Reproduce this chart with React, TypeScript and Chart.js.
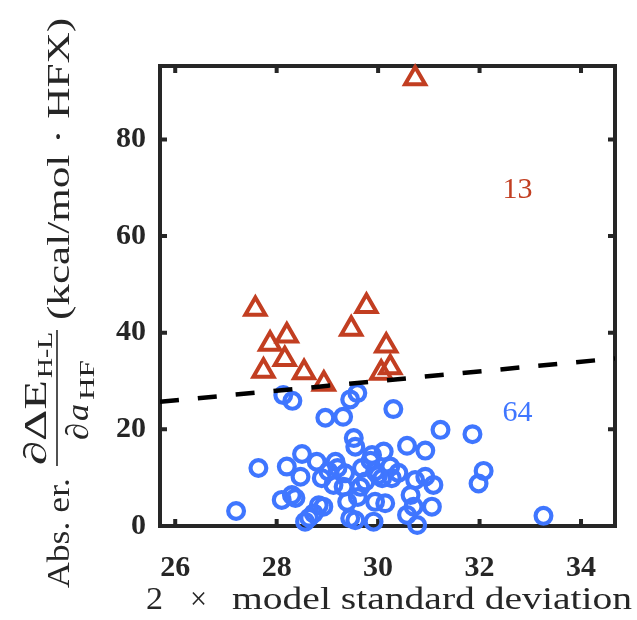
import React, { useEffect, useRef } from 'react';
import { Chart, registerables } from 'chart.js';

Chart.register(...registerables);

// ---- data ----
const xTicks = [26, 28, 30, 32, 34];
const yTicks = [0, 20, 40, 60, 80];
const xMin = 25.7;
const xMax = 34.67;
const yMin = 0;
const yMax = 95.2;

const redX = [30.73, 27.58, 29.77, 29.47, 28.2, 27.87, 30.16, 28.16, 27.74, 28.54, 30.24, 30.06, 28.93];
const redY = [92.6, 44.9, 45.5, 40.8, 39.4, 37.7, 37.3, 34.5, 32.1, 31.8, 32.8, 31.7, 29.4];

const blueX = [
  27.2, 27.64, 28.1, 28.3, 28.37, 28.2, 28.5, 28.47, 28.79, 28.89,
  28.83, 28.73, 28.64, 28.56, 28.92, 28.13, 28.31, 28.96, 29.31, 29.59,
  29.45, 30.3, 31.23, 31.86, 29.52, 29.55, 29.88, 30.11, 29.16, 29.68,
  29.94, 30.24, 29.02, 29.35, 29.75, 30.08, 30.27, 29.12, 29.32, 29.65,
  29.39, 29.94, 30.14, 29.45, 29.55, 29.91, 30.57, 30.93, 30.73, 30.93,
  31.09, 30.64, 31.06, 30.57, 30.77, 30.7, 32.08, 31.98, 33.26, 29.85,
  30.0, 29.2, 30.4, 29.6,
];
const blueY = [
  3.1, 12.0, 5.4, 6.4, 5.8, 12.3, 14.9, 10.2, 13.3, 9.9,
  4.3, 2.6, 1.7, 0.9, 4.0, 27.1, 25.9, 22.4, 22.6, 27.5,
  26.2, 24.2, 19.9, 19.0, 18.2, 16.4, 14.7, 15.4, 13.3, 12.0,
  11.3, 12.3, 11.3, 10.9, 9.2, 9.9, 9.9, 8.5, 8.1, 8.1,
  5.0, 5.0, 4.7, 1.6, 1.2, 0.9, 16.6, 15.6, 9.5, 10.2,
  8.5, 6.4, 4.0, 2.3, 0.2, 4.0, 11.4, 8.8, 2.1, 13.5,
  10.5, 12.0, 11.0, 6.0,
];

const lineX = [25.7, 34.67];
const lineY = [25.7, 34.67];

const countText = ['13', '64'];
const countX = [32.75, 32.75];
const countY = [69.6, 23.4];

const RED = '#c23e21';
const BLUE = '#3f76ff';
const AXIS = '#262626';
const SERIF = '"Liberation Serif", "Times New Roman", Times, serif';

function fitText(ctx: CanvasRenderingContext2D, text: string, x: number, y: number, width: number) {
  const w = ctx.measureText(text).width;
  ctx.save();
  ctx.translate(x, y);
  ctx.scale(width / w, 1);
  ctx.fillText(text, 0, 0);
  ctx.restore();
}

const decorPlugin = {
  id: 'decor',
  beforeDatasetsDraw(chart: any) {
    const { ctx, chartArea: a, scales } = chart;
    const xs = scales.x;
    const ys = scales.y;
    ctx.save();
    ctx.strokeStyle = AXIS;
    ctx.lineWidth = 4;
    ctx.strokeRect(a.left, a.top, a.right - a.left, a.bottom - a.top);
    const tl = 7;
    ctx.beginPath();
    xTicks.forEach((v) => {
      const px = xs.getPixelForValue(v);
      ctx.moveTo(px, a.bottom);
      ctx.lineTo(px, a.bottom - tl);
      ctx.moveTo(px, a.top);
      ctx.lineTo(px, a.top + tl);
    });
    yTicks.forEach((v) => {
      const py = ys.getPixelForValue(v);
      ctx.moveTo(a.left, py);
      ctx.lineTo(a.left + tl, py);
      ctx.moveTo(a.right, py);
      ctx.lineTo(a.right - tl, py);
    });
    ctx.stroke();
    ctx.restore();
  },
  afterDraw(chart: any) {
    const { ctx, scales } = chart;
    const xs = scales.x;
    const ys = scales.y;
    ctx.save();
    // counts
    ctx.font = `30px ${SERIF}`;
    ctx.textAlign = 'center';
    ctx.textBaseline = 'middle';
    countText.forEach((t, i) => {
      ctx.fillStyle = i === 0 ? RED : BLUE;
      ctx.fillText(t, xs.getPixelForValue(countX[i]), ys.getPixelForValue(countY[i]));
    });

    // x title
    ctx.fillStyle = AXIS;
    ctx.textAlign = 'left';
    ctx.textBaseline = 'alphabetic';
    ctx.font = `31px ${SERIF}`;
    fitText(ctx, '2', 146, 609, 17);
    fitText(ctx, '×', 190, 609, 17);
    fitText(ctx, 'model standard deviation', 232, 609, 400);

    // y title (rotated)
    ctx.save();
    ctx.rotate(-Math.PI / 2);
    ctx.textAlign = 'left';
    ctx.font = `32px ${SERIF}`;
    fitText(ctx, 'Abs. er.', -588, 69, 110);
    fitText(ctx, '(kcal/mol · HFX)', -320, 69, 302);
    // numerator
    fitText(ctx, '∂ΔE', -465, 46, 85);
    ctx.font = `22px ${SERIF}`;
    fitText(ctx, 'H-L', -378, 52, 46);
    // bar
    ctx.strokeStyle = AXIS;
    ctx.lineWidth = 1.6;
    ctx.beginPath();
    ctx.moveTo(-466, 57);
    ctx.lineTo(-330, 57);
    ctx.stroke();
    // denominator
    ctx.font = `32px ${SERIF}`;
    fitText(ctx, '∂', -440, 88, 17);
    ctx.font = `italic 32px ${SERIF}`;
    fitText(ctx, 'a', -421, 88, 17);
    ctx.font = `22px ${SERIF}`;
    fitText(ctx, 'HF', -400, 94, 40);
    ctx.restore();

    ctx.restore();
  },
};

export default function App() {
  const ref = useRef<HTMLCanvasElement | null>(null);
  useEffect(() => {
    let chart: Chart | null = null;
    let cancelled = false;
    const build = () => {
      if (cancelled || !ref.current) return;
      chart = new Chart(ref.current, {
        type: 'scatter',
        data: {
          datasets: [
            {
              type: 'line',
              data: lineX.map((x, i) => ({ x, y: lineY[i] })),
              borderColor: '#000000',
              borderWidth: 4.5,
              borderDash: [19, 19],
              pointRadius: 0,
              fill: false,
            } as any,
            {
              data: redX.map((x, i) => ({ x, y: redY[i] })),
              pointStyle: 'triangle',
              pointRadius: 11.6,
              borderWidth: 4,
              borderColor: RED,
              backgroundColor: 'rgba(0,0,0,0)',
              clip: false,
            } as any,
            {
              data: blueX.map((x, i) => ({ x, y: blueY[i] })),
              pointStyle: 'circle',
              pointRadius: 7.9,
              borderWidth: 4.2,
              borderColor: BLUE,
              backgroundColor: 'rgba(0,0,0,0)',
              clip: false,
            } as any,
          ],
        },
        options: {
          animation: false,
          responsive: true,
          maintainAspectRatio: false,
          layout: { padding: { top: 66, right: 22, left: 0, bottom: 0 } },
          plugins: { legend: { display: false }, tooltip: { enabled: false } },
          scales: {
            x: {
              type: 'linear',
              min: xMin,
              max: xMax,
              grid: { display: false, drawTicks: false },
              border: { display: false },
              afterBuildTicks: (s: any) => {
                s.ticks = xTicks.map((v) => ({ value: v }));
              },
              afterFit: (s: any) => {
                s.height = 94;
              },
              ticks: {
                padding: 24,
                color: AXIS,
                font: { family: SERIF, size: 30, weight: 'bold' },
                maxRotation: 0,
                callback: (v: any) => String(v),
              },
            },
            y: {
              type: 'linear',
              min: yMin,
              max: yMax,
              grid: { display: false, drawTicks: false },
              border: { display: false },
              afterBuildTicks: (s: any) => {
                s.ticks = yTicks.map((v) => ({ value: v }));
              },
              afterFit: (s: any) => {
                s.width = 160;
              },
              ticks: {
                padding: 14,
                color: AXIS,
                font: { family: SERIF, size: 30, weight: 'bold' },
                callback: (v: any) => String(v),
              },
            },
          },
        },
        plugins: [decorPlugin],
      });
    };
    const fonts: any = (document as any).fonts;
    if (fonts && fonts.load) {
      Promise.all([
        fonts.load('30px "Liberation Serif"'),
        fonts.load('bold 30px "Liberation Serif"'),
        fonts.load('italic 30px "Liberation Serif"'),
      ])
        .catch(() => undefined)
        .then(build);
    } else {
      build();
    }
    return () => {
      cancelled = true;
      if (chart) chart.destroy();
    };
  }, []);
  return (
    <div style={{ position: 'fixed', left: 0, top: 0, width: 637, height: 620, background: '#fff' }}>
      <canvas ref={ref} />
    </div>
  );
}
